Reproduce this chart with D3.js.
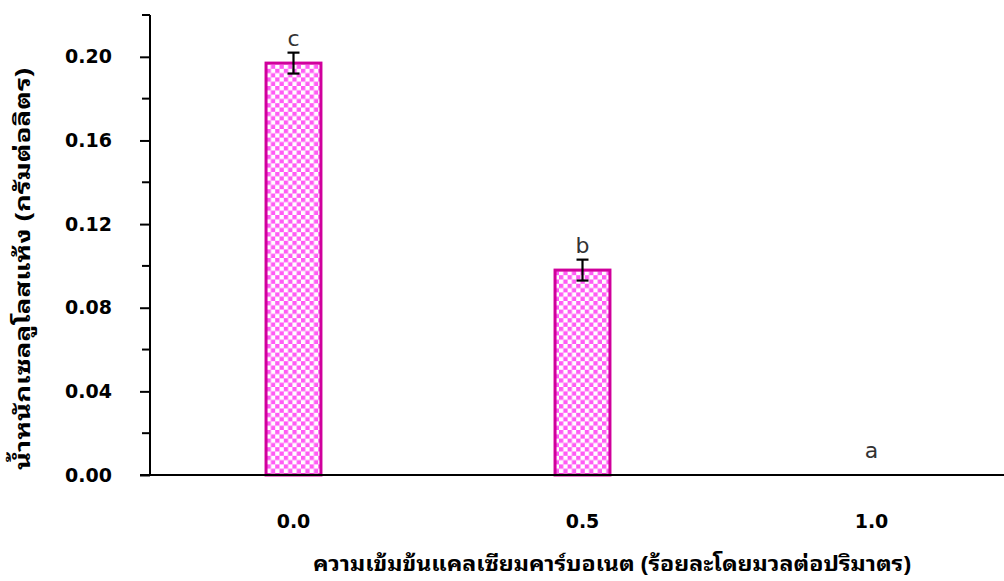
<!DOCTYPE html>
<html>
<head>
<meta charset="utf-8">
<script src="https://cdn.jsdelivr.net/npm/d3@7"></script>
<style>
  html, body { margin: 0; padding: 0; background: #fff; }
  svg { display: block; }
</style>
</head>
<body>
<svg id="chart" width="1004" height="581"></svg>
<script>
// Calcium carbonate concentration (% w/v) and dry cellulose weight (g/L)
const categories = ["0.0", "0.5", "1.0"];
const values = [0.197, 0.098, 0.0];
const errors = [0.005, 0.005, 0.0];
const letters = ["c", "b", "a"];
const yTicks = [0.00, 0.04, 0.08, 0.12, 0.16, 0.20];
const yMinorTicks = [0.02, 0.06, 0.10, 0.14, 0.18, 0.22];

const svg = d3.select("#chart");
const W = 1004, H = 581;
const margin = { left: 150, top: 15, bottom: 475 };

const x = d3.scaleBand()
  .domain(categories)
  .range([149, 1016])
  .paddingInner(0.81)
  .paddingOuter(0.405);

const y = d3.scaleLinear()
  .domain([0, 0.22])
  .range([margin.bottom, margin.top]);

// checkered fill
const defs = svg.append("defs");
const pat = defs.append("pattern")
  .attr("id", "check")
  .attr("patternUnits", "userSpaceOnUse")
  .attr("width", 8.6).attr("height", 8.6);
pat.append("rect").attr("width", 8.6).attr("height", 8.6).attr("fill", "#ffffff");
pat.append("rect").attr("width", 4.3).attr("height", 4.3).attr("fill", "#ff5cf4");
pat.append("rect").attr("x", 4.3).attr("y", 4.3).attr("width", 4.3).attr("height", 4.3).attr("fill", "#ff5cf4");

const font = "'DejaVu Sans', Tahoma, sans-serif";
const thai = "'Noto Sans Thai Looped', 'Noto Sans Thai', 'Noto Sans', 'DejaVu Sans', sans-serif";

// bars
const bw = x.bandwidth();
svg.append("g").selectAll("rect")
  .data(values)
  .join("rect")
  .attr("x", (d, i) => x(categories[i]))
  .attr("y", d => y(d))
  .attr("width", bw)
  .attr("height", d => y(0) - y(d))
  .attr("fill", "url(#check)")
  .attr("stroke", d => d > 0 ? "#d0009c" : "none")
  .attr("stroke-width", 3);

// error bars
const eg = svg.append("g").attr("stroke", "#000").attr("stroke-width", 2.2);
values.forEach((v, i) => {
  if (errors[i] <= 0) return;
  const cx = x(categories[i]) + bw / 2;
  eg.append("line").attr("x1", cx).attr("x2", cx).attr("y1", y(v + errors[i])).attr("y2", y(v - errors[i]));
  eg.append("line").attr("x1", cx - 6).attr("x2", cx + 6).attr("y1", y(v + errors[i])).attr("y2", y(v + errors[i]));
  eg.append("line").attr("x1", cx - 6).attr("x2", cx + 6).attr("y1", y(v - errors[i])).attr("y2", y(v - errors[i]));
});

// significance letters
svg.append("g").selectAll("text")
  .data(values)
  .join("text")
  .attr("x", (d, i) => x(categories[i]) + bw / 2)
  .attr("y", (d, i) => errors[i] > 0 ? y(d + errors[i]) - 7 : y(d) - 17)
  .attr("text-anchor", "middle")
  .attr("font-family", "'DejaVu Sans', sans-serif")
  .attr("font-size", 22)
  .attr("fill", "#333")
  .text((d, i) => letters[i]);

// y axis
const yAxis = svg.append("g")
  .attr("transform", `translate(${margin.left},0)`)
  .call(d3.axisLeft(y).tickValues(yTicks).tickFormat(d3.format(".2f")).tickSize(10).tickPadding(28));
yAxis.select(".domain").attr("stroke-width", 2).attr("d", `M0,${y(0.22)}V${y(0)}`).attr("stroke", "#000");
yAxis.selectAll(".tick line").attr("stroke-width", 2).attr("stroke", "#000");
yAxis.selectAll(".tick text")
  .attr("font-family", font).attr("font-weight", "bold").attr("font-size", 19).attr("fill", "#000");

svg.append("g")
  .attr("transform", `translate(${margin.left},0)`)
  .selectAll("line")
  .data(yMinorTicks)
  .join("line")
  .attr("x1", -8).attr("x2", 0)
  .attr("y1", d => y(d)).attr("y2", d => y(d))
  .attr("stroke", "#000").attr("stroke-width", 2);

// x axis
const xAxis = svg.append("g")
  .attr("transform", `translate(0,${y(0)})`)
  .call(d3.axisBottom(x).tickSize(0).tickPadding(40));
xAxis.select(".domain").attr("stroke-width", 2).attr("stroke", "#000")
  .attr("d", `M${margin.left - 10},0H${W}`);
xAxis.selectAll(".tick text")
  .attr("font-family", font).attr("font-weight", "bold").attr("font-size", 19).attr("fill", "#000");

// axis titles
svg.append("text")
  .attr("x", 612).attr("y", 571)
  .attr("text-anchor", "middle")
  .attr("font-family", thai).attr("font-weight", "bold").attr("font-size", 21)
  .attr("textLength", 598).attr("lengthAdjust", "spacingAndGlyphs")
  .text("ความเข้มข้นแคลเซียมคาร์บอเนต (ร้อยละโดยมวลต่อปริมาตร)");

svg.append("text")
  .attr("transform", "translate(30,269) rotate(-90)")
  .attr("text-anchor", "middle")
  .attr("font-family", thai).attr("font-weight", "bold").attr("font-size", 21)
  .attr("textLength", 402).attr("lengthAdjust", "spacingAndGlyphs")
  .text("น้ำหนักเซลลูโลสแห้ง (กรัมต่อลิตร)");
</script>
</body>
</html>
